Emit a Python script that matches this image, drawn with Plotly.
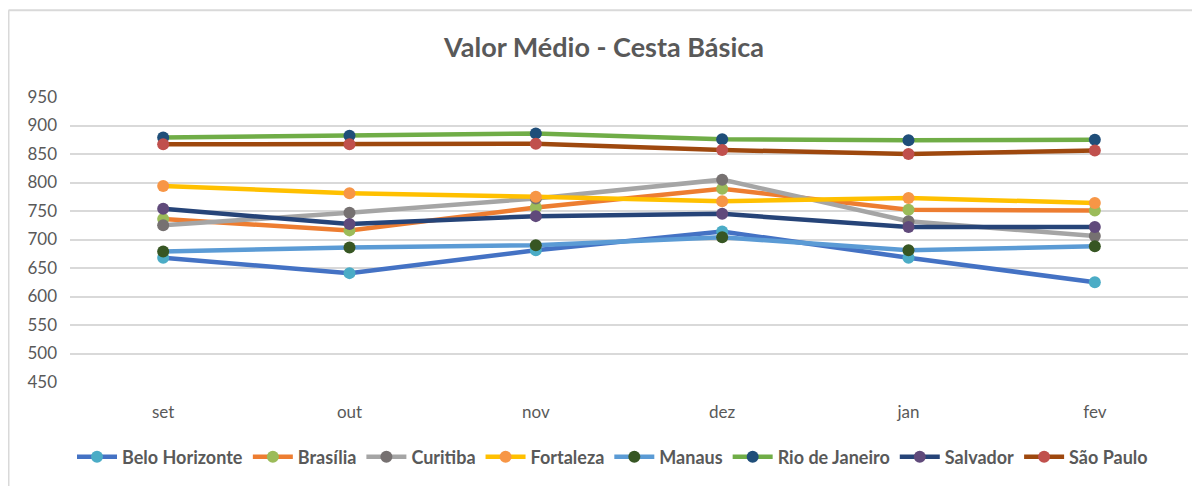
import plotly.graph_objects as go

months = ["set", "out", "nov", "dez", "jan", "fev"]
belo_horizonte = [668, 641, 681, 714, 668, 625]
brasilia = [736, 716, 756, 789, 752, 751]
curitiba = [725, 747, 772, 805, 732, 706]
fortaleza = [794, 781, 775, 767, 773, 764]
manaus = [679, 686, 690, 704, 681, 688]
rio_de_janeiro = [879, 882, 886, 876, 874, 875]
salvador = [754, 727, 741, 745, 722, 722]
sao_paulo = [867, 867, 868, 857, 850, 856]

series = [
    ("Belo Horizonte", belo_horizonte, "#4472C4", "#4BACC6"),
    ("Brasília", brasilia, "#ED7D31", "#9BBB59"),
    ("Curitiba", curitiba, "#A5A5A5", "#767171"),
    ("Fortaleza", fortaleza, "#FFC000", "#F79646"),
    ("Manaus", manaus, "#5B9BD5", "#375623"),
    ("Rio de Janeiro", rio_de_janeiro, "#70AD47", "#1F4E79"),
    ("Salvador", salvador, "#264478", "#604A7B"),
    ("São Paulo", sao_paulo, "#9E480E", "#C0504D"),
]

fig = go.Figure()
for name, vals, lc, mc in series:
    fig.add_trace(go.Scatter(
        x=months, y=vals, name=name, mode="lines+markers",
        line=dict(color=lc, width=4.5),
        marker=dict(color=mc, size=12, line=dict(width=0)),
    ))

# page has an 8px body margin; figure coordinates are offset accordingly
W, H = 1192, 478
L, T, R, B = 62, 89, 12, 103
plot_w = W - L - R
plot_h = H - T - B

font = "Lato, 'Noto Sans', sans-serif"
bx = (0.5 - L) / plot_w
by = (H - B - 2) / plot_h
fig.update_layout(
    width=W, height=H,
    margin=dict(l=L, r=R, t=T, b=B),
    paper_bgcolor="white", plot_bgcolor="white",
    title=dict(text="Valor Médio - Cesta Básica", x=0.5, xref="container",
               xanchor="center", y=1 - 40 / H, yanchor="middle",
               font=dict(family=font, size=27, color="#595959", weight="bold")),
    font=dict(family=font, color="#595959"),
    xaxis=dict(showgrid=False, showline=False, zeroline=False, ticks="",
               range=[-0.5, 5.5],
               tickfont=dict(size=17, color="#595959"), ticklabelstandoff=18),
    yaxis=dict(range=[450, 950], dtick=50, tick0=450, showgrid=True,
               gridcolor="#D9D9D9", gridwidth=2, zeroline=False, showline=False,
               tickfont=dict(size=17, color="#595959"), ticklabelstandoff=12),
    showlegend=True,
    legend=dict(orientation="h", x=(604.5 - L) / plot_w, xanchor="center",
                y=(H - B - 449) / plot_h, yanchor="middle",
                font=dict(size=18, color="#595959", weight="bold"),
                itemwidth=40, tracegroupgap=0),
    shapes=[
        dict(type="line", xref="paper", yref="paper",
             x0=bx, x1=1.2, y0=by, y1=by,
             line=dict(color="#D9D9D9", width=2)),
        dict(type="line", xref="paper", yref="paper",
             x0=bx, x1=bx, y0=by, y1=-0.5,
             line=dict(color="#D9D9D9", width=2)),
    ],
)

fig.write_html("out.html")
